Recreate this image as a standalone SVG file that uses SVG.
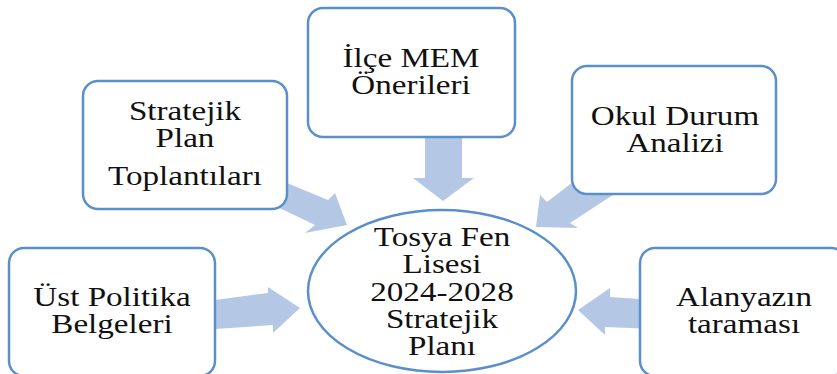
<svg xmlns="http://www.w3.org/2000/svg" width="837" height="374" viewBox="0 0 837 374">
<style>
.box{fill:#ffffff;stroke:#5a8fcb;stroke-width:2.5}
.arr{fill:#b4c8e6;stroke:none}
.t{font-family:'Liberation Serif',serif;font-size:26.5px;fill:#111111;text-anchor:middle}
</style>
<rect width="837" height="374" fill="#ffffff"/>
<g id="connectors">
<polygon class="arr" points="270,176 328,200 335,193 347,225 305,233 315,225 265,201"/>
<polygon class="arr" points="425,120 425,178 413,178 443,201 474,178 462,178 462,120"/>
<polygon class="arr" points="590,169 547,202 540,195 536,227 578,228 570,223 625,187"/>
<polygon class="arr" points="200,302 268,293 268,287 300,308 273,333 273,325 200,330"/>
<polygon class="arr" points="655,300 610,297 610,288 578,310 605,335 605,327 655,329"/>
</g>
<g id="node-stratejik">
<rect class="box" x="83" y="81" width="204" height="128" rx="15"/>
<text class="t" font-family="Liberation Serif, serif" transform="translate(185,0) scale(1.25,1)"><tspan x="0" y="120">Stratejik</tspan><tspan x="0" y="147">Plan</tspan><tspan x="0" y="185">Toplantıları</tspan></text>
</g>
<g id="node-ilce">
<rect class="box" x="308" y="8" width="207" height="129" rx="15"/>
<text class="t" font-family="Liberation Serif, serif" transform="translate(411,0) scale(1.25,1)"><tspan x="0" y="67">İlçe MEM</tspan><tspan x="0" y="94">Önerileri</tspan></text>
</g>
<g id="node-okul">
<rect class="box" x="572" y="66" width="204" height="128" rx="15"/>
<text class="t" font-family="Liberation Serif, serif" transform="translate(675,0) scale(1.25,1)"><tspan x="0" y="125">Okul Durum</tspan><tspan x="0" y="152">Analizi</tspan></text>
</g>
<g id="node-ust">
<rect class="box" x="9" y="248" width="206" height="128" rx="15"/>
<text class="t" font-family="Liberation Serif, serif" transform="translate(112,0) scale(1.25,1)"><tspan x="0" y="306">Üst Politika</tspan><tspan x="0" y="333">Belgeleri</tspan></text>
</g>
<g id="node-alanyazin">
<rect class="box" x="640" y="248" width="206" height="128" rx="15"/>
<text class="t" font-family="Liberation Serif, serif" transform="translate(744,0) scale(1.25,1)"><tspan x="0" y="306">Alanyazın</tspan><tspan x="0" y="333">taraması</tspan></text>
</g>
<g id="node-center">
<ellipse class="box" cx="442" cy="291" rx="134" ry="81"/>
<text class="t" font-family="Liberation Serif, serif" transform="translate(442,0) scale(1.25,1)"><tspan x="0" y="246">Tosya Fen</tspan><tspan x="0" y="273">Lisesi</tspan><tspan x="0" y="301">2024-2028</tspan><tspan x="0" y="328">Stratejik</tspan><tspan x="0" y="355">Planı</tspan></text>
</g>
</svg>
